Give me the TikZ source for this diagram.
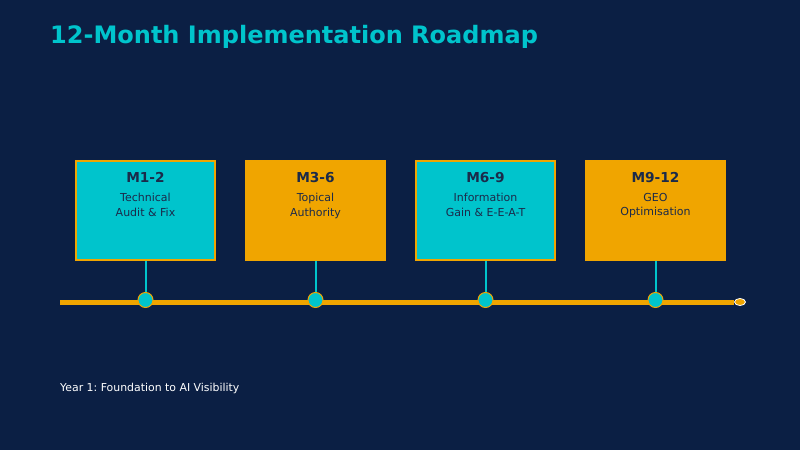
\documentclass[tikz,border=0pt]{standalone}
\usepackage{fontspec}
\setmainfont{DejaVu Sans}
\usepackage{xcolor}
\usetikzlibrary{positioning,calc,shapes.geometric}
\definecolor{bgnavy}{HTML}{0B1F44}
\definecolor{rmteal}{HTML}{00C4CC}
\definecolor{rmamber}{HTML}{F0A500}
\definecolor{rmink}{HTML}{1B2A4A}
\frenchspacing
\tikzset{
  phase/.style={minimum width=139pt,minimum height=99pt,inner sep=0pt},
  stem/.style={draw=rmteal,line width=2pt},
  dot/.style={circle,fill=rmteal,draw=rmamber,line width=1pt,minimum size=15pt,inner sep=0pt}
}
\begin{document}
\begin{tikzpicture}[x=1pt,y=-1pt]
	% fond
	\fill[bgnavy] (0,0) rectangle (800,450);
	\useasboundingbox (0,0) rectangle (800,450);
	
	% titre
	\node[anchor=base west,inner sep=0pt,text=rmteal,font=\fontsize{24}{28}\selectfont\bfseries] (title) at (50,43) {12-Month Implementation Roadmap};
	
	% ligne du temps
	\coordinate (lstart) at (60,302);
	\node[ellipse,fill=rmamber,draw=white,line width=0.8pt,minimum width=11pt,minimum height=7pt,inner sep=0pt] (lend) at (740,302) {};
	\draw[rmamber,line width=5pt] (lstart) -- (lend.west);
	
	% phases
	\foreach \x/\c/\m/\t [count=\i] in {145.5/rmteal/M1-2/{Technical\\Audit \& Fix},315.5/rmamber/M3-6/{Topical\\Authority},485.5/rmteal/M6-9/{Information\\Gain \& E-E-A-T},655.5/rmamber/M9-12/{GEO\\Optimisation}} {
		\node[phase,fill=\c,draw=rmamber,line width=1.2pt] (box\i) at (\x,210.5) {};
		\node[anchor=base,text=rmink,font=\fontsize{13.7}{15}\selectfont\bfseries] (head\i) at (\x,182) {\m};
		\node[anchor=north,text=rmink,align=center,font=\fontsize{11}{14.5}\selectfont,inner sep=0pt] (desc\i) at (\x,193) {\t};
		\node[dot] (dot\i) at (\x,300) {};
		\draw[stem] (box\i.south) -- (dot\i.north);
	}
	
	% note
	\node[anchor=base west,inner sep=0pt,text=white,font=\fontsize{10.9}{12}\selectfont] (note) at (60,391) {Year 1: Foundation to AI Visibility};
\end{tikzpicture}
\end{document}
